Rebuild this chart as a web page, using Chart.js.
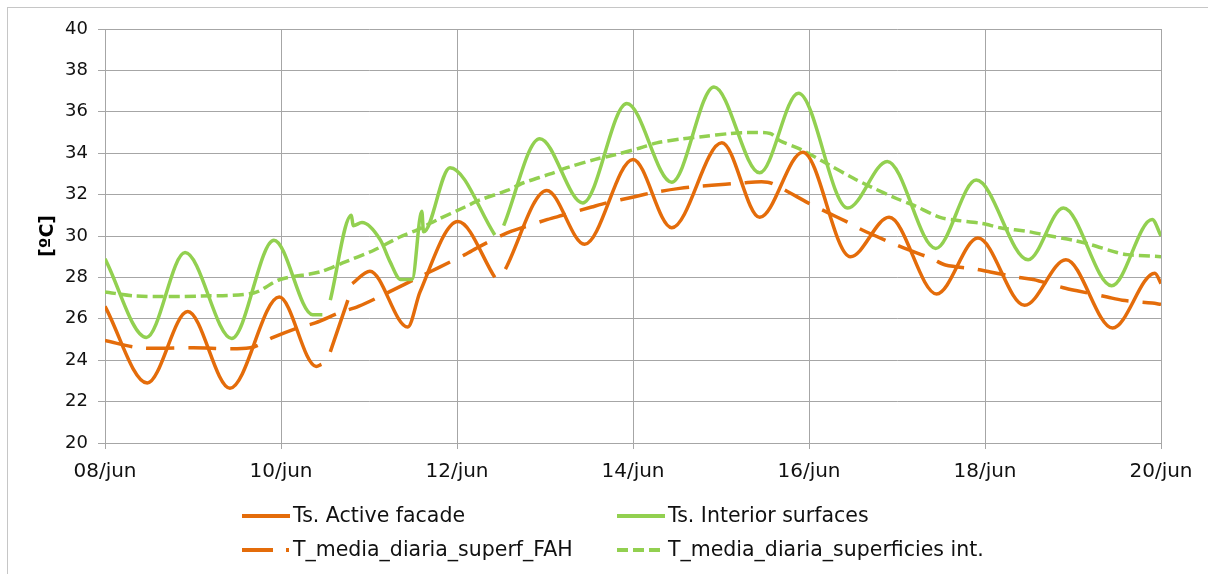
<!DOCTYPE html>
<html>
<head>
<meta charset="utf-8">
<script src="https://cdn.jsdelivr.net/npm/chart.js@4/dist/chart.umd.min.js"></script>
<style>
    html, body { margin: 0; padding: 0; background: #fff; overflow: hidden; }
    #wrap { position: relative; width: 1208px; height: 574px; }
    #frame { position: absolute; left: 7px; top: 7px; width: 1400px; height: 800px; border: 1px solid #c6c6c6; box-sizing: border-box; }
    canvas { position: absolute; left: 0; top: 0; }
</style>
</head>
<body>
<div id="wrap">
    <div id="frame"></div>
    <canvas id="chartTemp" width="1208" height="574"></canvas>
</div>
<script>
// x in days from 08/jun 00:00, null = break in the recorded series
const xTickLabels = ['08/jun', '10/jun', '12/jun', '14/jun', '16/jun', '18/jun', '20/jun'];

const activeDays = [0, 0.48, 0.94, 1.42, 1.98, 2.40, 2.46, 2.51, 2.56, 2.76, 2.785, 2.81, 3.01, 3.44, 3.58, 4.01, 4.43, 4.49,
    4.55, 5.02, 5.45, 6.00, 6.44, 7.01, 7.44, 7.93, 8.47, 8.91, 9.45, 9.92, 10.45, 10.92, 11.45, 11.93, 12.0];
const activeTemps = [26.6, 22.9, 26.35, 22.65, 27.05, 23.7, 23.8, null, 24.4, 26.9, null, 27.7, 28.3, 25.6, 27.3, 30.7, 28.0, null,
    28.4, 32.2, 29.6, 33.7, 30.4, 34.5, 30.9, 34.05, 29.0, 30.9, 27.2, 29.9, 26.65, 28.85, 25.55, 28.2, 27.7];

const interiorDays = [0, 0.47, 0.91, 1.44, 1.92, 2.36, 2.47, 2.51, 2.56, 2.80, 2.82, 2.92, 3.13, 3.24, 3.36, 3.49, 3.60, 3.62,
    3.92, 4.43, 4.48, 4.53, 4.94, 5.43, 5.93, 6.44, 6.92, 7.44, 7.88, 8.44, 8.89, 9.44, 9.90, 10.49, 10.89, 11.44, 11.90, 12.0];
const interiorTemps = [28.9, 25.1, 29.2, 25.05, 29.8, 26.2, 26.2, null, 26.9, 31.0, 30.5, 30.65, 29.8, 28.75, 27.9, 27.9, 31.2, 30.2,
    33.3, 30.05, null, 30.5, 34.7, 31.6, 36.4, 32.6, 37.2, 33.05, 36.9, 31.35, 33.6, 29.4, 32.7, 28.85, 31.35, 27.6, 30.8, 30.0];

const fahMeanDays = [0, 0.40, 1.0, 1.65, 1.91, 2.22, 2.39, 2.67, 2.88, 3.23, 3.61, 3.78, 4.09, 4.26, 4.57, 4.74, 5.03, 5.20, 5.53,
    5.70, 6.02, 6.23, 6.53, 6.74, 7.05, 7.22, 7.53, 7.69, 7.99, 8.15, 8.47, 8.60, 8.92, 9.09, 9.40, 9.55, 9.89, 10.06, 10.38,
    10.55, 10.89, 11.06, 11.39, 11.56, 11.90, 12.0];
const fahMeanTemps = [24.95, 24.6, 24.6, 24.6, 25.1, 25.6, 25.8, 26.3, 26.6, 27.3, 28.1, 28.45, 29.1, 29.5, 30.15, 30.4, 30.8, 31.0, 31.4,
    31.6, 31.9, 32.1, 32.3, 32.4, 32.5, 32.56, 32.6, 32.3, 31.6, 31.26, 30.6, 30.3, 29.7, 29.4, 28.9, 28.6, 28.4, 28.26, 28.0,
    27.9, 27.5, 27.34, 27.05, 26.9, 26.76, 26.7];

const intMeanDays = [0, 0.35, 1.10, 1.69, 1.99, 2.44, 2.70, 3.05, 3.35, 3.55, 3.77, 4.09, 4.26, 4.57, 4.75, 5.06, 5.25, 5.57, 5.77,
    6.08, 6.27, 6.57, 6.78, 7.10, 7.30, 7.56, 7.67, 7.90, 8.20, 8.50, 8.69, 9.00, 9.18, 9.49, 9.66, 9.97, 10.17, 10.51, 10.68,
    11.0, 11.19, 11.50, 11.62, 12.0];
const intMeanTemps = [27.3, 27.1, 27.1, 27.25, 27.9, 28.26, 28.7, 29.3, 29.95, 30.3, 30.77, 31.4, 31.74, 32.2, 32.56, 33.0, 33.3, 33.7, 33.9,
    34.25, 34.5, 34.7, 34.8, 34.95, 35.0, 34.95, 34.6, 34.2, 33.5, 32.8, 32.4, 31.8, 31.5, 30.9, 30.77, 30.6, 30.4, 30.2, 30.05,
    29.8, 29.6, 29.2, 29.1, 29.0];

const orange = '#E46C0A';
const green = '#92D050';
const gridColor = '#a6a6a6';

function toPoints(days, temps) {
    return days.map((d, i) => ({x: d, y: temps[i]}));
}

// legend laid out as a 2x2 grid, like the original spreadsheet chart
const gridLegend = {
    id: 'gridLegend',
    afterDraw(chart, args, opts) {
        const ctx = chart.ctx;
        chart.data.datasets.forEach((ds, i) => {
            const x = opts.columns[i % 2];
            const y = opts.rows[Math.floor(i / 2)];
            ctx.save();
            ctx.strokeStyle = ds.borderColor;
            ctx.lineWidth = 4;
            ctx.setLineDash(ds.legendDash || ds.borderDash || []);
            ctx.beginPath();
            ctx.moveTo(x, y);
            ctx.lineTo(x + opts.sampleWidth, y);
            ctx.stroke();
            ctx.setLineDash([]);
            ctx.fillStyle = '#111';
            ctx.font = opts.font;
            ctx.textBaseline = 'middle';
            ctx.fillText(ds.label, x + opts.sampleWidth + 3, y + 1);
            ctx.restore();
        });
    }
};

const ctxTemp = document.getElementById('chartTemp').getContext('2d');
const tempChart = new Chart(ctxTemp, {
    type: 'line',
    data: {
        datasets: [
            {
                label: 'Ts. Active facade',
                data: toPoints(activeDays, activeTemps),
                borderColor: orange,
                borderWidth: 3.5,
                pointRadius: 0,
                cubicInterpolationMode: 'monotone',
                fill: false,
            },
            {
                label: 'Ts. Interior surfaces',
                data: toPoints(interiorDays, interiorTemps),
                borderColor: green,
                borderWidth: 3.5,
                pointRadius: 0,
                cubicInterpolationMode: 'monotone',
                fill: false,
            },
            {
                label: 'T_media_diaria_superf_FAH',
                data: toPoints(fahMeanDays, fahMeanTemps),
                borderColor: orange,
                borderWidth: 3.5,
                borderDash: [28, 14],
                legendDash: [31, 13, 3, 13],
                pointRadius: 0,
                tension: 0.3,
                fill: false,
            },
            {
                label: 'T_media_diaria_superficies int.',
                data: toPoints(intMeanDays, intMeanTemps),
                borderColor: green,
                borderWidth: 3.5,
                borderDash: [11, 5],
                pointRadius: 0,
                tension: 0.3,
                fill: false,
            }
        ]
    },
    options: {
        responsive: false,
        animation: false,
        devicePixelRatio: 1,
        spanGaps: false,
        layout: {
            padding: {top: 29, right: 47, bottom: 0, left: 8}
        },
        scales: {
            x: {
                type: 'linear',
                min: 0,
                max: 12,
                ticks: {
                    stepSize: 2,
                    padding: 11,
                    color: '#111',
                    font: {family: 'DejaVu Sans', size: 20},
                    maxRotation: 0,
                    callback: (value) => xTickLabels[value / 2]
                },
                grid: {color: gridColor, lineWidth: 1, tickLength: 6},
                border: {color: gridColor},
                afterFit: (scale) => { scale.height = 131; }
            },
            y: {
                min: 20,
                max: 40,
                ticks: {
                    stepSize: 2,
                    padding: 10,
                    color: '#111',
                    font: {family: 'DejaVu Sans', size: 18}
                },
                grid: {color: gridColor, lineWidth: 1, tickLength: 7},
                border: {color: gridColor},
                title: {
                    display: true,
                    text: '[ºC]',
                    color: '#000',
                    font: {family: 'DejaVu Sans', size: 19, weight: 'bold'},
                    padding: {top: 29, bottom: 0}
                },
                afterFit: (scale) => { scale.width = 97; }
            }
        },
        plugins: {
            legend: {display: false},
            tooltip: {enabled: false},
            gridLegend: {
                columns: [242, 617],
                rows: [516, 550],
                sampleWidth: 48,
                font: '20.5px "DejaVu Sans"'
            }
        }
    },
    plugins: [gridLegend]
});
</script>
</body>
</html>
